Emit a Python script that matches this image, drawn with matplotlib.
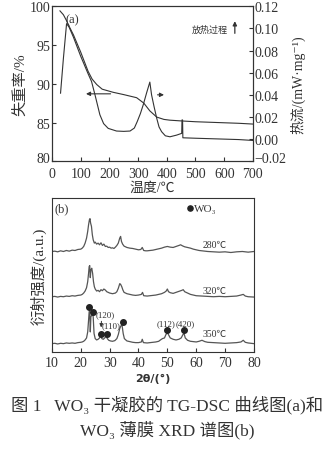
import numpy as np
import matplotlib
matplotlib.use('Agg')
import matplotlib.pyplot as plt
from matplotlib.transforms import ScaledTranslation

plt.rcParams['font.family'] = ['Liberation Serif', 'Noto Sans CJK SC', 'DejaVu Sans']
plt.rcParams['axes.unicode_minus'] = False
FAM = ['Liberation Serif', 'Noto Sans CJK SC', 'DejaVu Sans']

# ---------------- (a) TG-DSC ----------------
tg_T = [28, 40, 50, 60, 75, 100, 126, 140, 156, 175, 213, 250, 295, 320, 341,
        365, 390, 411, 452, 500, 574, 650, 700]
tg_w = [99.4, 98.9, 98.2, 97.4, 96.3, 94.1, 91.6, 90.6, 89.9, 89.3, 88.9, 88.6,
        88.2, 87.5, 86.5, 85.7, 85.4, 85.3, 85.2, 85.1, 85.0, 84.9, 84.8]

dsc_T = [30, 40, 51, 60, 75, 100, 126, 138, 150, 167, 180, 196, 225, 250, 272,
         287, 297, 308, 318, 330, 341, 347, 356, 365, 373, 382, 395, 411, 434,
         452, 453, 455, 456, 500, 600, 650, 700]
dsc_q = [0.0415, 0.073, 0.1043, 0.101, 0.092, 0.075, 0.059, 0.052, 0.040, 0.022,
         0.014, 0.0097, 0.0073, 0.0070, 0.0073, 0.010, 0.0158, 0.023, 0.031,
         0.042, 0.0515, 0.040, 0.029, 0.0188, 0.011, 0.0067, 0.003, 0.0021,
         0.0036, 0.0052, 0.0173, 0.0173, 0.0012, 0.0008, 0.0, -0.0004, -0.0012]

# ---------------- (b) XRD ----------------
x280 = [10, 11, 12, 13, 14, 15, 16, 17, 18, 19, 20, 20.5, 21, 21.5, 22, 22.4, 22.7,
        23.0, 23.2, 23.4, 23.7, 24.0, 24.3, 24.7, 25.0, 25.5, 26, 26.5, 27, 27.5,
        28, 28.5, 29, 29.5, 30, 30.5, 31, 31.5, 32, 32.5, 33, 33.5, 33.8, 34.1,
        34.5, 35, 35.5, 36, 37, 38, 39, 40, 40.8, 41.3, 41.8, 42.5, 43, 44, 45,
        46, 47, 48, 49, 50, 51, 52, 53, 54, 54.6, 55.2, 56, 57, 58, 59, 60, 61,
        62, 64, 66, 68, 70, 72, 74, 76, 78, 80]
i280 = [300, 301, 299, 302, 300, 303, 301, 304, 303, 306, 307, 310, 315, 325, 340,
        360, 380, 395, 398, 385, 375, 350, 335, 325, 328, 322, 325, 320, 326, 318,
        322, 315, 316, 312, 313, 310, 311, 309, 313, 318, 325, 340, 345, 330,
        322, 316, 314, 312, 310, 309, 307, 305, 306, 312, 303, 302, 302, 303, 304,
        306, 308, 310, 313, 315, 313, 312, 315, 318, 320, 317, 314, 312, 310, 307,
        305, 303, 302, 300, 299, 298, 299, 297, 299, 300, 298, 300]

x320 = [10, 11, 12, 13, 14, 15, 16, 17, 18, 19, 20, 20.5, 21, 21.5, 22, 22.4, 22.7,
        22.9, 23.1, 23.3, 23.5, 23.8, 24.1, 24.4, 24.7, 25, 25.5, 26, 26.5, 27,
        27.5, 28, 28.5, 29, 29.5, 30, 31, 32, 32.5, 33, 33.5, 33.8, 34.2, 34.6,
        35, 36, 37, 38, 39, 40, 41.0, 41.4, 41.8, 43, 44, 45, 46, 47, 48, 49,
        49.6, 50.0, 50.4, 51, 52, 53, 54, 55, 55.5, 56, 57, 58, 59, 60, 62, 64,
        66, 68, 70, 72, 74, 75.5, 76.3, 77, 78, 80]
i320 = [165, 166, 164, 166, 165, 167, 166, 168, 167, 169, 170, 172, 176, 182, 192,
        210, 235, 255, 258, 222, 245, 250, 235, 210, 195, 188, 182, 184, 180, 186,
        183, 188, 185, 180, 178, 176, 174, 176, 180, 190, 204, 202, 195, 185,
        178, 174, 172, 170, 169, 170, 172, 178, 168, 167, 168, 169, 170, 172, 174,
        178, 182, 188, 180, 177, 175, 178, 181, 184, 186, 180, 176, 172, 170, 168,
        167, 166, 165, 166, 165, 166, 167, 170, 172, 167, 165, 164]

x350 = [10, 11, 12, 13, 14, 15, 16, 17, 18, 19, 20, 20.5, 21, 21.5, 22, 22.4, 22.7,
        22.9, 23.1, 23.3, 23.5, 23.8, 24.1, 24.3, 24.6, 25, 25.5, 26, 26.5, 26.9,
        27.3, 27.8, 28.3, 28.8, 29.2, 29.7, 30.3, 31, 31.8, 32.5, 33, 33.5, 33.9,
        34.3, 34.7, 35.1, 35.6, 36, 37, 38, 39, 40, 41.0, 41.3, 41.7, 43, 44, 45,
        46, 47, 47.6, 48.3, 49, 49.5, 50.0, 50.5, 51, 52, 53, 54, 54.8, 55.4,
        55.8, 56.2, 57, 58, 59, 60, 61, 62, 63, 64, 66, 68, 70, 72, 74, 75.5,
        76.3, 77, 78, 80]
i350 = [25, 26, 24, 26, 25, 27, 26, 27, 26, 28, 29, 30, 32, 36, 42, 60, 95,
        120, 125, 60, 105, 110, 112, 105, 55, 40, 36, 38, 42, 48,
        40, 38, 42, 48, 40, 35, 33, 32, 34, 40, 52, 70, 78,
        80, 55, 40, 36, 33, 31, 29, 28, 28, 30, 38, 28, 27, 28, 29,
        30, 32, 36, 40, 42, 52, 58, 50, 42, 38, 36, 38, 42, 52,
        55, 42, 35, 32, 31, 30, 32, 35, 31, 29, 28, 27, 26, 27, 28, 30,
        35, 29, 27, 25]

peak_x = [23.0, 24.3, 27.0, 29.0, 34.5, 50.0, 55.6]
peak_i = [135, 120, 55, 55, 90, 65, 67]
hkl = ['(120)', '(110)', '(112)', '(420)']
hkl_x = [28.4, 30.4, 49.6, 56.2]
hkl_i = [112, 80, 85, 85]
temps = ['280℃', '320℃', '350℃']
temp_i = [320, 185, 55]

fig = plt.figure(figsize=(3.35, 4.52), dpi=100)
fig.patch.set_facecolor('white')
INK = '#333333'

# --- panel a ---
ax = fig.add_axes([0.155, 0.641, 0.600, 0.343])
ax.plot(tg_T, tg_w, color=INK, lw=0.8)
ax.set_xlim(0, 700)
ax.set_ylim(80, 100)
ax.set_xticks(range(0, 701, 100))
ax.set_yticks([80, 85, 90, 95, 100])
ax.tick_params(direction='in', labelsize=10, length=3, width=0.8, pad=1,
               colors=INK)
ax.tick_params(axis='x', pad=4)
ax.set_xlabel('温度/℃', fontsize=10, labelpad=1, family=FAM, color=INK)
ax.set_ylabel('失重率/%', fontsize=11, labelpad=2, family=FAM, color=INK)
ax2 = ax.twinx()
ax2.plot(dsc_T, dsc_q, color=INK, lw=0.8)
ax2.set_ylim(-0.02, 0.12)
ax2.set_yticks(np.arange(-0.02, 0.121, 0.02))
ax2.set_yticklabels(['−0.02', '0.00', '0.02', '0.04', '0.06', '0.08', '0.10', '0.12'])
ax2.tick_params(direction='in', labelsize=10, length=3, width=0.8, pad=1,
                colors=INK)
ax2.set_ylabel('热流/(mW·mg⁻¹)', fontsize=10, labelpad=3, family=FAM, color=INK)
for a in (ax, ax2):
    for s in a.spines.values():
        s.set_linewidth(0.8)
        s.set_color(INK)
# lift the lowest y labels a little, as in the original
up = ScaledTranslation(0, 3 / 72, fig.dpi_scale_trans)
ax.get_yticklabels()[0].set_transform(ax.get_yticklabels()[0].get_transform() + up)
ax2.get_yticklabels()[0].set_transform(ax2.get_yticklabels()[0].get_transform() + up)

ax.annotate('', xy=(109, 88.7), xytext=(214, 88.7),
            arrowprops=dict(arrowstyle='-|>', color=INK, lw=0.8,
                            mutation_scale=6))
ax2.annotate('', xy=(400, 0.040), xytext=(358, 0.040),
             arrowprops=dict(arrowstyle='-|>', color=INK, lw=0.8,
                             mutation_scale=6))
ax.text(72, 98.3, '(a)', fontsize=9, ha='center', va='center', color=INK)
ax2.text(550, 0.099, '放热过程', fontsize=6.5, ha='center', va='center',
         family=FAM, color=INK)
ax2.annotate('', xy=(637, 0.109), xytext=(637, 0.093),
             arrowprops=dict(arrowstyle='-|>', color=INK, lw=0.9,
                             mutation_scale=6))

# --- panel b ---
bx = fig.add_axes([0.155, 0.219, 0.603, 0.341])
for xs, ys in ((x280, i280), (x320, i320), (x350, i350)):
    bx.plot(xs, ys, color='#555555', lw=0.9)
bx.scatter(peak_x, peak_i, s=16, color='#222222', zorder=5)
bx.set_xlim(10, 80)
bx.set_ylim(0, 460)
bx.set_xticks(range(10, 81, 10))
bx.set_yticks([])
bx.tick_params(direction='in', labelsize=10, length=3, width=0.8, pad=3,
               colors=INK)
for s in bx.spines.values():
    s.set_linewidth(0.8)
    s.set_color(INK)
bx.set_xlabel('2θ/(°)', fontsize=8, labelpad=3, family=['DejaVu Sans'],
              fontweight='bold', color=INK)
bx.set_ylabel('衍射强度/(a.u.)', fontsize=11, labelpad=4, family=FAM, color=INK)
bx.text(13.5, 430, '(b)', fontsize=9, ha='center', va='center', color=INK)
bx.scatter([57.8], [430], s=14, color='#222222')
bx.text(59.2, 428, 'WO₃', fontsize=8, ha='left', va='center', family=FAM,
        color=INK)
for lab, xx, yy in zip(hkl, hkl_x, hkl_i):
    bx.text(xx, yy, lab, fontsize=6.5, ha='center', va='center', color=INK)
bx.annotate('', xy=(27.0, 65), xytext=(27.2, 100),
            arrowprops=dict(arrowstyle='-|>', color=INK, lw=0.7,
                            mutation_scale=5))
for lab, yy in zip(temps, temp_i):
    bx.text(66.5, yy, lab, fontsize=7, ha='center', va='center', family=FAM,
            color=INK)

# caption
fig.text(0.5, 1 - 405 / 452, '图 1   WO₃ 干凝胶的 TG-DSC 曲线图(a)和',
         ha='center', va='center', fontsize=12.5, family=FAM, color=INK)
fig.text(0.5, 1 - 430 / 452, 'WO₃ 薄膜 XRD 谱图(b)',
         ha='center', va='center', fontsize=12.5, family=FAM, color=INK)

fig.savefig('out.png', dpi=100)
